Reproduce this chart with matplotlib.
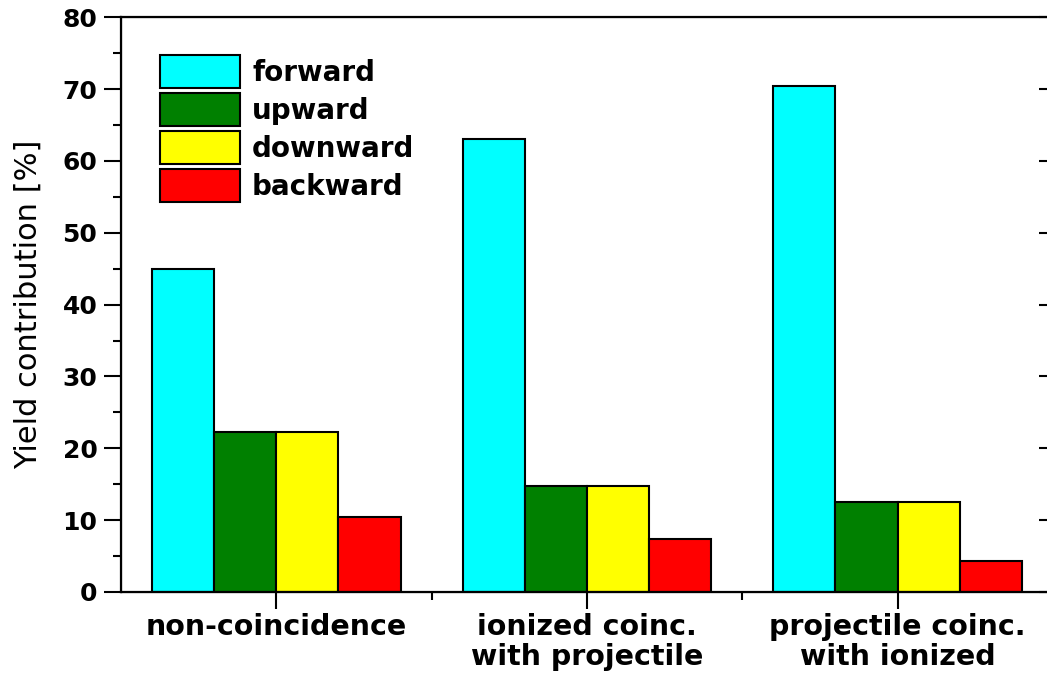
import numpy as np
import matplotlib
matplotlib.use("Agg")
import matplotlib.pyplot as plt
from matplotlib.ticker import MultipleLocator

plt.rcParams['font.family'] = ['DejaVu Sans']

groups = ['non-coincidence', 'ionized coinc.\nwith projectile', 'projectile coinc.\nwith ionized']
directions = ['forward', 'upward', 'downward', 'backward']
colors = ['#00FFFF', '#008000', '#FFFF00', '#FF0000']
forward = [44.9, 63.1, 70.4]
upward = [22.3, 14.7, 12.5]
downward = [22.3, 14.7, 12.5]
backward = [10.4, 7.4, 4.3]
series = [forward, upward, downward, backward]

fig = plt.figure(figsize=(10.47, 6.77), dpi=100)
ax = fig.add_axes([0.1156, 0.1256, 0.890, 0.849])

x = np.arange(1, len(groups) + 1)
width = 0.2
offsets = [-0.3, -0.1, 0.1, 0.3]
for vals, off, col, name in zip(series, offsets, colors, directions):
    ax.bar(x + off, vals, width, color=col, edgecolor='black', linewidth=1.5, label=name)

ax.set_xlim(0.5, 3.5)
ax.set_ylim(0, 80)
ax.set_xticks(x)
ax.set_xticklabels(groups, fontsize=20.5, fontweight='bold', linespacing=1.1)
ax.set_xticks([1.5, 2.5], minor=True)
ax.yaxis.set_major_locator(MultipleLocator(10))
ax.yaxis.set_minor_locator(MultipleLocator(5))
for lab in ax.get_yticklabels():
    lab.set_fontweight('bold')
    lab.set_fontsize(18)
ax.tick_params(axis='y', which='major', direction='out', length=12, width=1.5, pad=5)
ax.tick_params(axis='y', which='minor', direction='out', length=6, width=1.5)
ax.tick_params(axis='x', which='major', direction='out', length=12, width=1.5, pad=3)
ax.tick_params(axis='x', which='minor', direction='out', length=6, width=1.5)
for s in ax.spines.values():
    s.set_linewidth(1.6)
ax.set_ylabel('Yield contribution [%]', fontsize=22, labelpad=14)

# right side ticks point inwards (spine itself falls just outside the picture)
ax2 = ax.twinx()
ax2.set_ylim(0, 80)
ax2.yaxis.set_major_locator(MultipleLocator(10))
ax2.tick_params(axis='y', which='major', direction='in', length=10, width=1.5, labelright=False)
ax2.tick_params(axis='y', which='minor', length=0)

ax.legend(loc='upper left', bbox_to_anchor=(0.042, 0.934), frameon=False,
          borderpad=0, borderaxespad=0, handlelength=2.88, handleheight=1.42,
          labelspacing=0.2, handletextpad=0.43,
          prop={'size': 20, 'weight': 'bold'})

fig.savefig('out.png', dpi=100)
